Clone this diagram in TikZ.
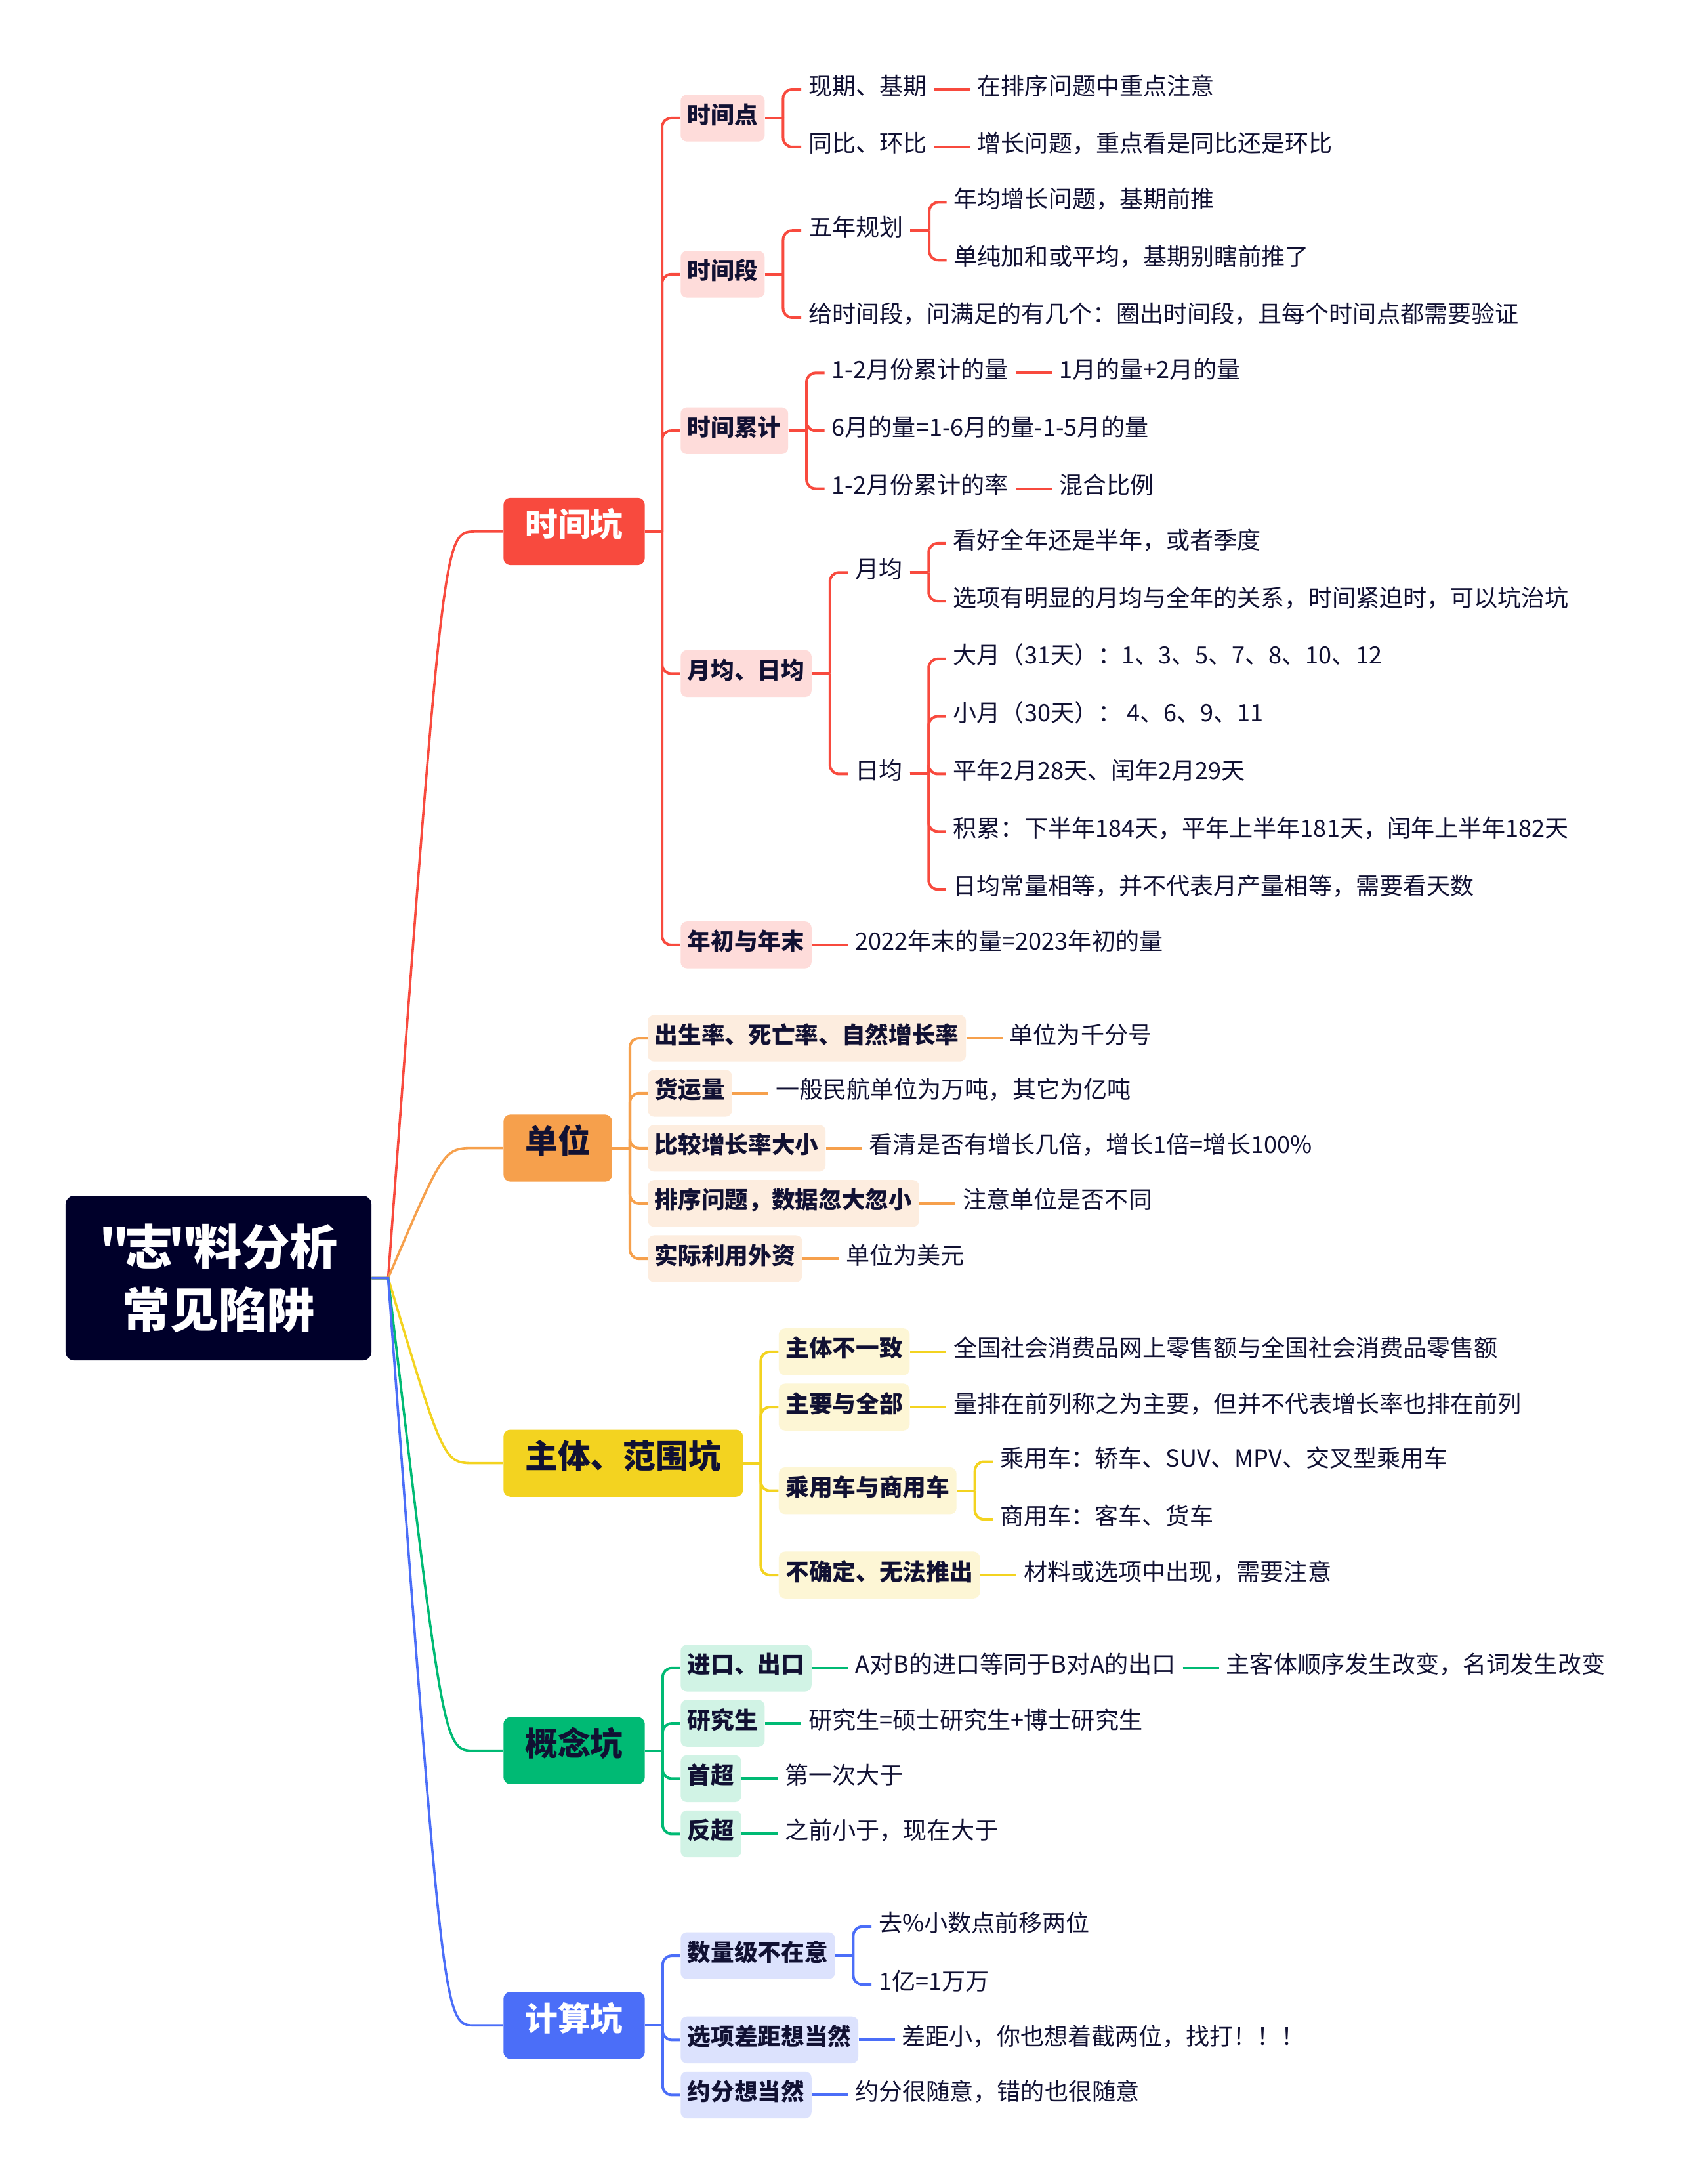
\documentclass[tikz,border=0pt]{standalone}
\usepackage{fontspec}
\setmainfont[Ligatures=TeXOff]{Noto Sans CJK SC}
\usetikzlibrary{calc}
\definecolor{cRed}{HTML}{F84A3E}
\definecolor{cRedL}{HTML}{FEDCDA}
\definecolor{cOrg}{HTML}{F6A04C}
\definecolor{cOrgL}{HTML}{FDEDDF}
\definecolor{cYel}{HTML}{F3D320}
\definecolor{cYelL}{HTML}{FDF6D5}
\definecolor{cGrn}{HTML}{00BA74}
\definecolor{cGrnL}{HTML}{D1F3E5}
\definecolor{cBlu}{HTML}{4B6EF8}
\definecolor{cBluL}{HTML}{DCE2FD}
\definecolor{cRoot}{HTML}{00002A}
\definecolor{cText}{HTML}{111133}
% name, parent, dx, y, style, text
\newcommand\MNode[6]{\path let \p1=(#2.east) in node[#5] (#1) at (\x1+#3pt,-#4pt) {#6};}
% colour, parent, spine dx, child
\newcommand\MBranch[4]{\draw[conn=#1] (#2.east) -- ($(#2.east)+(#3,0)$);
  \draw[conn=#1, rounded corners=6.5pt] ($(#2.east)+(#3,0)$) |- (#4.west);}
\newcommand\MHoriz[3]{\draw[conn=#1] (#2.east) -- (#3.west);}
\begin{document}
\begin{tikzpicture}[x=1pt,y=-1pt,
  conn/.style={draw=#1, line width=1.9pt},
  rootbox/.style={fill=cRoot, text=white, rounded corners=6pt, minimum width=219.6pt, minimum height=118.2pt, inner sep=0pt, align=center, font=\fontsize{34.5}{45.3}\selectfont\bfseries},
  mainbox/.style={fill=#1, rounded corners=5pt, anchor=west, inner xsep=15.5pt, inner ysep=0pt, minimum height=48.2pt, text height=0.88em, text depth=0.12em, font=\fontsize{23.5}{23.5}\selectfont\bfseries},
  subbox/.style={fill=#1, text=cText, rounded corners=4.5pt, anchor=west, inner xsep=5pt, inner ysep=0pt, minimum height=33.6pt, text height=0.88em, text depth=0.12em, font=\fontsize{16.8}{16.8}\selectfont\bfseries},
  leaf/.style={text=cText, anchor=west, inner xsep=5pt, inner ysep=1pt, text height=0.88em, text depth=0.12em, font=\fontsize{17}{17}\selectfont},
]
\path[fill=white] (0,0) rectangle (1210.9,1568);
\useasboundingbox (0,0) rectangle (1210.9,1568);

% root and main nodes
\node[rootbox] (R) at (156.9,917.6) {"\kern-0.1em 志\kern-0.1em"\kern-0.1em 料分析\\常见陷阱};
\coordinate (F) at ($(R.east)+(11.8,0)$);
\node[mainbox=cRed,text=white] (T) at (361.3,381.6) {时间坑};
\node[mainbox=cOrg,text=cText] (U) at (361.3,824.3) {单位};
\node[mainbox=cYel,text=cText] (Z) at (361.3,1050.5) {主体、范围坑};
\node[mainbox=cGrn,text=cText] (G) at (361.3,1256.9) {概念坑};
\node[mainbox=cBlu,text=white] (C) at (361.3,1454.1) {计算坑};

% ---------- 时间坑 ----------
\MNode{T1}{T}{25.3}{84.8}{subbox=cRedL}{时间点}
\MNode{T2}{T}{25.3}{196.9}{subbox=cRedL}{时间段}
\MNode{T3}{T}{25.3}{309.2}{subbox=cRedL}{时间累计}
\MNode{T4}{T}{25.3}{483.6}{subbox=cRedL}{月均、日均}
\MNode{T5}{T}{25.3}{678.4}{subbox=cRedL}{年初与年末}

\MNode{T1a}{T1}{26}{64.1}{leaf}{现期、基期}
\MNode{T1a2}{T1a}{26}{64.1}{leaf}{在排序问题中重点注意}
\MNode{T1b}{T1}{26}{105.5}{leaf}{同比、环比}
\MNode{T1b2}{T1b}{26}{105.5}{leaf}{增长问题，重点看是同比还是环比}

\MNode{T2a}{T2}{26}{165.5}{leaf}{五年规划}
\MNode{T2a1}{T2a}{26}{145.3}{leaf}{年均增长问题，基期前推}
\MNode{T2a2}{T2a}{26}{186.7}{leaf}{单纯加和或平均，基期别瞎前推了}
\MNode{T2b}{T2}{26}{228}{leaf}{给时间段，问满足的有几个：圈出时间段，且每个时间点都需要验证}

\MNode{T3a}{T3}{26}{267.8}{leaf}{1-2月份累计的量}
\MNode{T3a2}{T3a}{26}{267.8}{leaf}{1月的量+2月的量}
\MNode{T3b}{T3}{26}{309.2}{leaf}{6月的量=1-6月的量-1-5月的量}
\MNode{T3c}{T3}{26}{350.8}{leaf}{1-2月份累计的率}
\MNode{T3c2}{T3c}{26}{350.8}{leaf}{混合比例}

\MNode{T4a}{T4}{26}{411}{leaf}{月均}
\MNode{T4a1}{T4a}{26}{390.1}{leaf}{看好全年还是半年，或者季度}
\MNode{T4a2}{T4a}{26}{431.6}{leaf}{选项有明显的月均与全年的关系，时间紧迫时，可以坑治坑}
\MNode{T4b}{T4}{26}{555.7}{leaf}{日均}
\MNode{T4b1}{T4b}{26}{473}{leaf}{大月（31天）：1、3、5、7、8、10、12}
\MNode{T4b2}{T4b}{26}{514.3}{leaf}{小月（30天）： 4、6、9、11}
\MNode{T4b3}{T4b}{26}{555.7}{leaf}{平年2月28天、闰年2月29天}
\MNode{T4b4}{T4b}{26}{597.1}{leaf}{积累：下半年184天，平年上半年181天，闰年上半年182天}
\MNode{T4b5}{T4b}{26}{638.5}{leaf}{日均常量相等，并不代表月产量相等，需要看天数}

\MNode{T5a}{T5}{26}{678.4}{leaf}{2022年末的量=2023年初的量}

% ---------- 单位 ----------
\MNode{U1}{U}{25.3}{745.4}{subbox=cOrgL}{出生率、死亡率、自然增长率}
\MNode{U2}{U}{25.3}{784.9}{subbox=cOrgL}{货运量}
\MNode{U3}{U}{25.3}{824.4}{subbox=cOrgL}{比较增长率大小}
\MNode{U4}{U}{25.3}{864}{subbox=cOrgL}{排序问题，数据忽大忽小}
\MNode{U5}{U}{25.3}{903.7}{subbox=cOrgL}{实际利用外资}
\MNode{U1a}{U1}{26}{745.4}{leaf}{单位为千分号}
\MNode{U2a}{U2}{26}{784.9}{leaf}{一般民航单位为万吨，其它为亿吨}
\MNode{U3a}{U3}{26}{824.4}{leaf}{看清是否有增长几倍，增长1倍=增长100\%}
\MNode{U4a}{U4}{26}{864}{leaf}{注意单位是否不同}
\MNode{U5a}{U5}{26}{903.7}{leaf}{单位为美元}

% ---------- 主体、范围坑 ----------
\MNode{Z1}{Z}{25.3}{970.5}{subbox=cYelL}{主体不一致}
\MNode{Z2}{Z}{25.3}{1010.2}{subbox=cYelL}{主要与全部}
\MNode{Z3}{Z}{25.3}{1070.3}{subbox=cYelL}{乘用车与商用车}
\MNode{Z4}{Z}{25.3}{1130.8}{subbox=cYelL}{不确定、无法推出}
\MNode{Z1a}{Z1}{26}{970.5}{leaf}{全国社会消费品网上零售额与全国社会消费品零售额}
\MNode{Z2a}{Z2}{26}{1010.2}{leaf}{量排在前列称之为主要，但并不代表增长率也排在前列}
\MNode{Z3a}{Z3}{26}{1049.5}{leaf}{乘用车：轿车、SUV、MPV、交叉型乘用车}
\MNode{Z3b}{Z3}{26}{1090.8}{leaf}{商用车：客车、货车}
\MNode{Z4a}{Z4}{26}{1130.8}{leaf}{材料或选项中出现，需要注意}

% ---------- 概念坑 ----------
\MNode{G1}{G}{25.3}{1197.6}{subbox=cGrnL}{进口、出口}
\MNode{G2}{G}{25.3}{1237.3}{subbox=cGrnL}{研究生}
\MNode{G3}{G}{25.3}{1277}{subbox=cGrnL}{首超}
\MNode{G4}{G}{25.3}{1316.6}{subbox=cGrnL}{反超}
\MNode{G1a}{G1}{26}{1197.6}{leaf}{A对B的进口等同于B对A的出口}
\MNode{G1b}{G1a}{26}{1197.6}{leaf}{主客体顺序发生改变，名词发生改变}
\MNode{G2a}{G2}{26}{1237.3}{leaf}{研究生=硕士研究生+博士研究生}
\MNode{G3a}{G3}{26}{1277}{leaf}{第一次大于}
\MNode{G4a}{G4}{26}{1316.6}{leaf}{之前小于，现在大于}

% ---------- 计算坑 ----------
\MNode{C1}{C}{25.3}{1404.1}{subbox=cBluL}{数量级不在意}
\MNode{C2}{C}{25.3}{1464.5}{subbox=cBluL}{选项差距想当然}
\MNode{C3}{C}{25.3}{1504.1}{subbox=cBluL}{约分想当然}
\MNode{C1a}{C1}{26}{1383.2}{leaf}{去\%小数点前移两位}
\MNode{C1b}{C1}{26}{1424.8}{leaf}{1亿=1万万}
\MNode{C2a}{C2}{26}{1464.5}{leaf}{差距小，你也想着截两位，找打！！！}
\MNode{C3a}{C3}{26}{1504.1}{leaf}{约分很随意，错的也很随意}

% ---------- connectors from root ----------
\foreach \m/\c in {T/cRed,U/cOrg,Z/cYel,G/cGrn,C/cBlu}
  \draw[conn=\c, line width=1.7pt] (R.east) -- (F)
    .. controls ($(\m.west)+(-42.8,0)$) and ($(\m.west)+(-42.8,0)$) .. ($(\m.west)+(-20.3,0)$) -- (\m.west);

% 时间坑 connectors
\foreach \k in {T1,T2,T3,T4,T5} {\MBranch{cRed}{T}{12.2}{\k}}
\MBranch{cRed}{T1}{13}{T1a}
\MBranch{cRed}{T1}{13}{T1b}
\MHoriz{cRed}{T1a}{T1a2}
\MHoriz{cRed}{T1b}{T1b2}
\MBranch{cRed}{T2}{13}{T2a}
\MBranch{cRed}{T2}{13}{T2b}
\MBranch{cRed}{T2a}{13.5}{T2a1}
\MBranch{cRed}{T2a}{13.5}{T2a2}
\MBranch{cRed}{T3}{13}{T3a}
\MBranch{cRed}{T3}{13}{T3b}
\MBranch{cRed}{T3}{13}{T3c}
\MHoriz{cRed}{T3a}{T3a2}
\MHoriz{cRed}{T3c}{T3c2}
\MBranch{cRed}{T4}{13}{T4a}
\MBranch{cRed}{T4}{13}{T4b}
\MBranch{cRed}{T4a}{13.5}{T4a1}
\MBranch{cRed}{T4a}{13.5}{T4a2}
\foreach \k in {T4b1,T4b2,T4b3,T4b4,T4b5} {\MBranch{cRed}{T4b}{13.5}{\k}}
\MHoriz{cRed}{T5}{T5a}

% 单位 connectors
\foreach \k in {U1,U2,U3,U4,U5} {\MBranch{cOrg}{U}{12.6}{\k}}
\MHoriz{cOrg}{U1}{U1a}
\MHoriz{cOrg}{U2}{U2a}
\MHoriz{cOrg}{U3}{U3a}
\MHoriz{cOrg}{U4}{U4a}
\MHoriz{cOrg}{U5}{U5a}

% 主体、范围坑 connectors
\foreach \k in {Z1,Z2,Z3,Z4} {\MBranch{cYel}{Z}{12.6}{\k}}
\MHoriz{cYel}{Z1}{Z1a}
\MHoriz{cYel}{Z2}{Z2a}
\MBranch{cYel}{Z3}{13}{Z3a}
\MBranch{cYel}{Z3}{13}{Z3b}
\MHoriz{cYel}{Z4}{Z4a}

% 概念坑 connectors
\foreach \k in {G1,G2,G3,G4} {\MBranch{cGrn}{G}{12.6}{\k}}
\MHoriz{cGrn}{G1}{G1a}
\MHoriz{cGrn}{G1a}{G1b}
\MHoriz{cGrn}{G2}{G2a}
\MHoriz{cGrn}{G3}{G3a}
\MHoriz{cGrn}{G4}{G4a}

% 计算坑 connectors
\foreach \k in {C1,C2,C3} {\MBranch{cBlu}{C}{12.6}{\k}}
\MBranch{cBlu}{C1}{13}{C1a}
\MBranch{cBlu}{C1}{13}{C1b}
\MHoriz{cBlu}{C2}{C2a}
\MHoriz{cBlu}{C3}{C3a}
\end{tikzpicture}
\end{document}
